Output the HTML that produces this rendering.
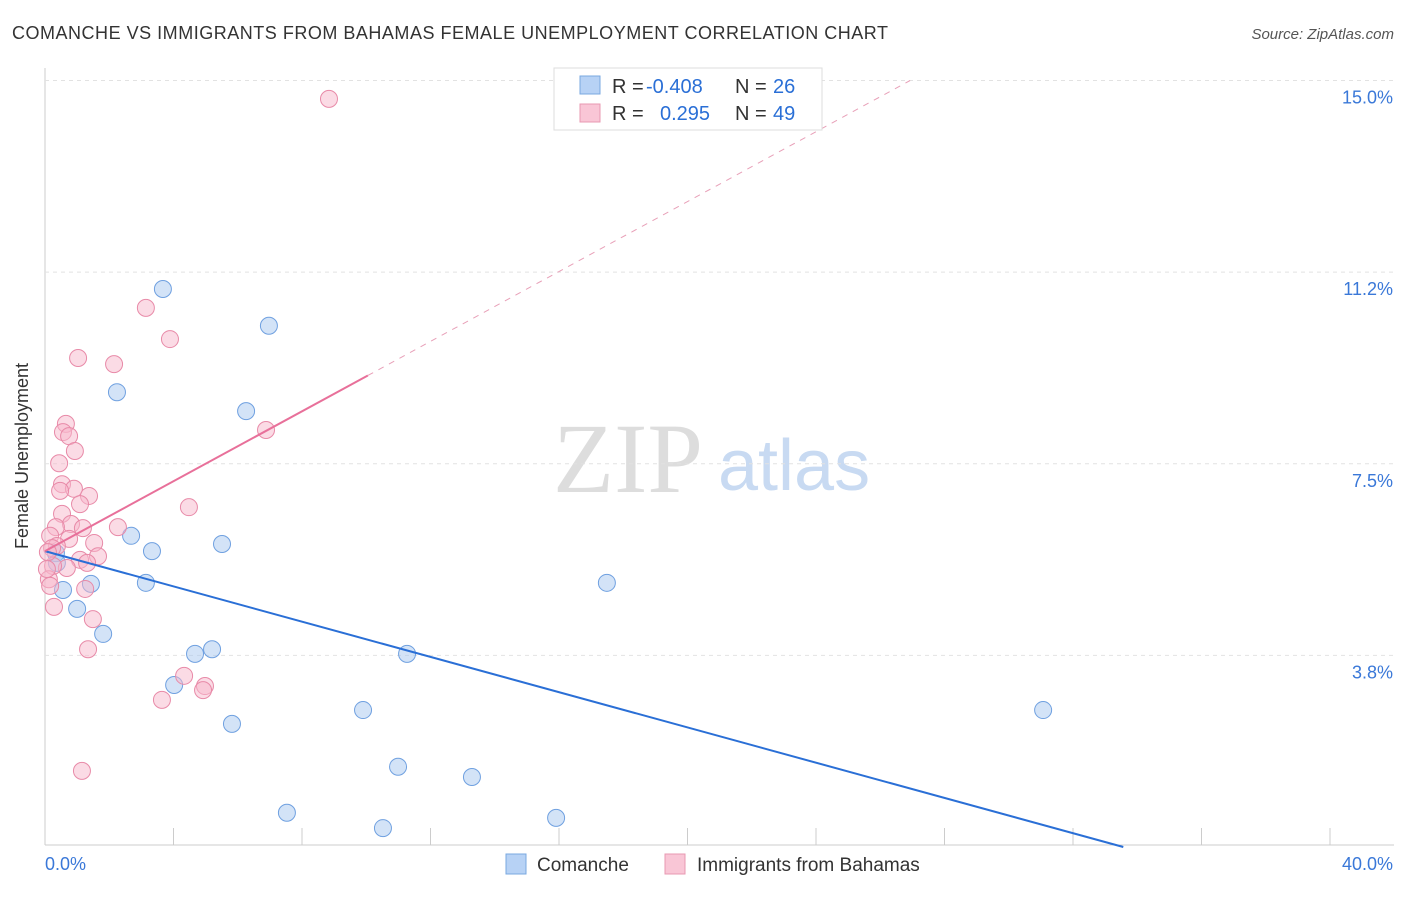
<!DOCTYPE html>
<html><head><meta charset="utf-8"><style>
body{margin:0;background:#fff;font-family:"Liberation Sans",sans-serif;}
svg text{font-family:"Liberation Sans",sans-serif;}
svg text.serif{font-family:"Liberation Serif",serif;}
</style></head><body>
<svg id="c" width="1406" height="892">
<text x="12" y="39" font-size="18" fill="#333" textLength="876">COMANCHE VS IMMIGRANTS FROM BAHAMAS FEMALE UNEMPLOYMENT CORRELATION CHART</text>
<text x="1394" y="39" font-size="15" fill="#555" font-style="italic" text-anchor="end">Source: ZipAtlas.com</text>
<text x="28" y="456" font-size="18" fill="#333" text-anchor="middle" transform="rotate(-90 28 456)">Female Unemployment</text>
<text class="serif" x="553" y="492" font-size="100" fill="#ddd">ZIP</text>
<text x="718" y="490" font-size="72" fill="#c8daf2">atlas</text>
<g id="grid"></g><g id="pts"></g><g id="lines"></g>
<g>
<rect x="554" y="68" width="268" height="62" fill="#fff" stroke="#ddd"/>
<rect x="580" y="76" width="20" height="18" fill="#b7d2f5" stroke="#7aa8e0"/>
<text x="612" y="93" font-size="20" fill="#333">R = </text><text x="646" y="93" font-size="20" fill="#2a6fd6">-0.408</text>
<text x="735" y="93" font-size="20" fill="#333">N = </text><text x="773" y="93" font-size="20" fill="#2a6fd6">26</text>
<rect x="580" y="104" width="20" height="18" fill="#f9c6d6" stroke="#e898b2"/>
<text x="612" y="120" font-size="20" fill="#333">R = </text><text x="660" y="120" font-size="20" fill="#2a6fd6">0.295</text>
<text x="735" y="120" font-size="20" fill="#333">N = </text><text x="773" y="120" font-size="20" fill="#2a6fd6">49</text>
</g>
<g>
<rect x="506" y="854" width="20" height="20" fill="#b7d2f5" stroke="#7aa8e0"/>
<text x="537" y="871" font-size="19" fill="#333">Comanche</text>
<rect x="665" y="854" width="20" height="20" fill="#f9c6d6" stroke="#e898b2"/>
<text x="697" y="871" font-size="19" fill="#333">Immigrants from Bahamas</text>
</g>
</svg>
<script>
const xTicks=[0,4,8,12,16,20,24,28,32,36,40];
const yTicks=[3.75,7.5,11.25,15];
const yTickLabels=["3.8%","7.5%","11.2%","15.0%"];
const blueX=[3.67,6.97,2.24,6.26,2.68,3.33,5.51,0.34,0.37,1.43,3.14,0.56,1.00,1.81,5.20,4.67,11.27,4.02,5.82,9.90,10.99,13.29,7.53,10.52,15.91,17.49,31.07];
const blueY=[10.92,10.20,8.90,8.53,6.09,5.79,5.93,5.75,5.56,5.15,5.17,5.03,4.66,4.17,3.87,3.78,3.78,3.17,2.41,2.68,1.57,1.37,0.67,0.37,0.57,5.17,2.68];
const pinkX=[8.84,3.14,3.89,1.03,2.15,0.65,0.56,0.75,6.88,0.93,0.44,0.53,0.90,1.37,0.47,1.09,4.48,0.53,0.81,0.34,2.27,1.18,0.16,0.75,1.53,0.37,0.22,1.65,1.09,1.31,0.68,0.25,0.12,0.16,1.25,0.28,1.49,1.34,4.33,4.98,4.92,3.64,1.15,0.06,0.09];
const pinkY=[14.64,10.55,9.94,9.57,9.45,8.28,8.12,8.04,8.16,7.75,7.51,7.10,7.01,6.87,6.97,6.71,6.65,6.52,6.32,6.26,6.26,6.24,6.09,6.03,5.95,5.89,5.85,5.69,5.62,5.56,5.46,5.50,5.24,5.11,5.05,4.70,4.46,3.87,3.35,3.15,3.07,2.88,1.49,5.44,5.77];
const blueTrend=[5.79,-0.1725];
const pinkTrend=[5.79,0.342];
const X=v=>45+v*1285/40, Y=v=>847-v*51.1;
const NS="http://www.w3.org/2000/svg";
function mk(p,t,a){const e=document.createElementNS(NS,t);for(const k in a)e.setAttribute(k,a[k]);p.appendChild(e);return e;}
const g=document.getElementById('grid');
const ax=mk(g,'line',{x1:45,y1:845,x2:1394,y2:845,stroke:'#ccc'});


const ay=mk(g,'line',{x1:45,y1:68,x2:45,y2:845,stroke:'#ccc'});


xTicks.forEach(t=>{const l=mk(g,'line',{x1:X(t),y1:845,x2:X(t),y2:828,stroke:'#ccc'});

});
yTicks.forEach((t,i)=>{const l=mk(g,'line',{x1:45,y1:Y(t),x2:1394,y2:Y(t),stroke:'#e2e2e2','stroke-dasharray':'4,4'});


const tx=mk(g,'text',{x:1393,y:Y(t)+23,'font-size':18,fill:'#3a78d8','text-anchor':'end'});tx.textContent=yTickLabels[i];

});
const x0=mk(g,'text',{x:45,y:870,'font-size':18,fill:'#3a78d8'});x0.textContent='0.0%';


const x1=mk(g,'text',{x:1393,y:870,'font-size':18,fill:'#3a78d8','text-anchor':'end'});x1.textContent='40.0%';


const P=document.getElementById('pts');
blueX.forEach((x,i)=>{const c=mk(P,'circle',{cx:X(x),cy:Y(blueY[i]),r:8.5,fill:'rgba(168,200,240,0.5)',stroke:'#6fa0e0','stroke-width':1});

});
pinkX.forEach((x,i)=>{const c=mk(P,'circle',{cx:X(x),cy:Y(pinkY[i]),r:8.5,fill:'rgba(247,184,204,0.5)',stroke:'#e88aa8','stroke-width':1});

});
const L=document.getElementById('lines');
const bxEnd=-blueTrend[0]/blueTrend[1];
const bl=mk(L,'line',{x1:X(0),y1:Y(blueTrend[0]),x2:X(bxEnd),y2:Y(0),stroke:'#2a6fd6','stroke-width':2});


const pl=mk(L,'line',{x1:X(0),y1:Y(pinkTrend[0]),x2:X(10.05),y2:Y(pinkTrend[0]+pinkTrend[1]*10.05),stroke:'#e8709a','stroke-width':2});


const pxEnd=(15.0-pinkTrend[0])/pinkTrend[1];
const pd=mk(L,'line',{x1:X(10.05),y1:Y(pinkTrend[0]+pinkTrend[1]*10.05),x2:X(pxEnd),y2:Y(15.0),stroke:'#e8a0b8','stroke-width':1,'stroke-dasharray':'6,6'});


</script>
</body></html>
